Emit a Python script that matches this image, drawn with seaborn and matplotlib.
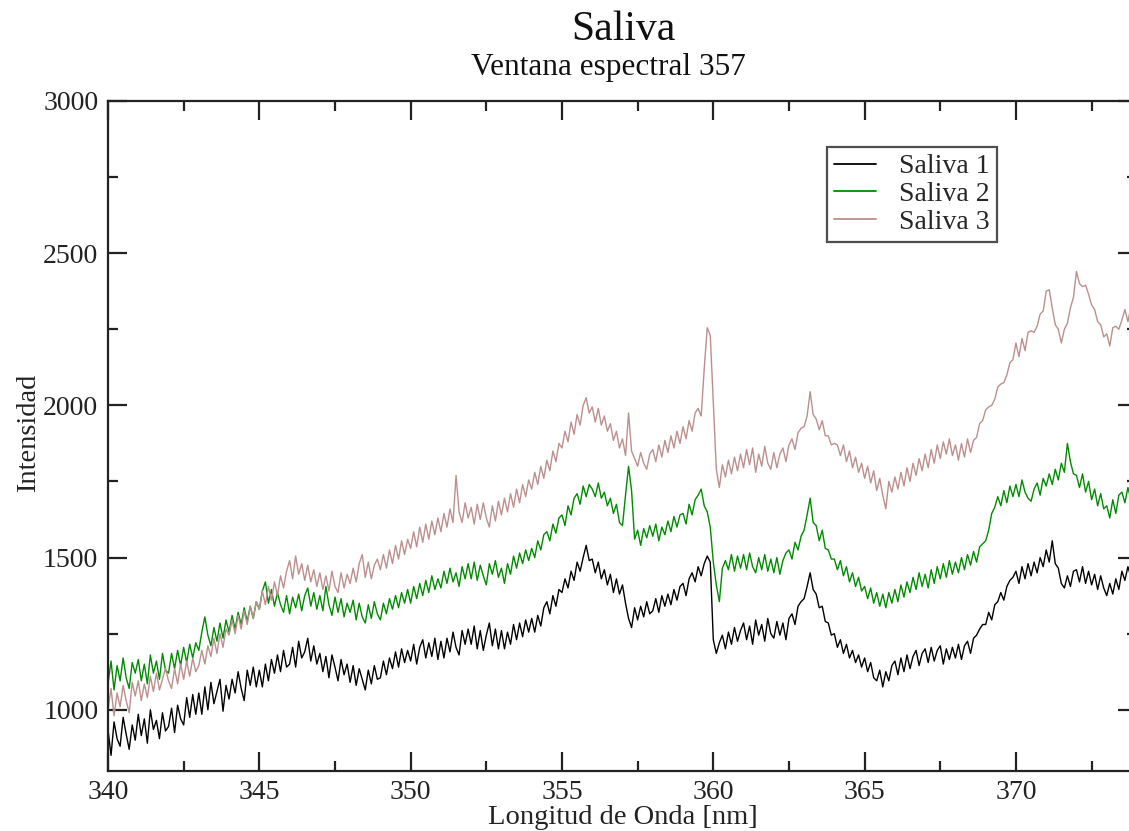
import numpy as np
import pandas as pd
import matplotlib
matplotlib.use("Agg")
import matplotlib.pyplot as plt
import seaborn as sns

# Wavelength grid: 340.0 ... 374.0 nm in 0.1 nm steps
nm_start, nm_stop, nm_step = 340.0, 374.0, 0.1

series_names = ["Saliva 1", "Saliva 2", "Saliva 3"]
series_colors = ["#000000", "#008b00", "#bc8f8f"]

# Saliva 1 (one row per nm)
saliva_1 = [
    935, 850, 960, 905, 880, 975, 920, 870, 950, 900,
    985, 915, 970, 890, 1000, 935, 965, 905, 990, 930,
    945, 1005, 925, 1015, 970, 950, 1040, 975, 1050, 985,
    1055, 985, 1075, 1000, 1090, 1020, 1060, 1100, 995, 1080,
    1035, 1100, 1055, 1125, 1070, 1030, 1130, 1080, 1140, 1075,
    1130, 1075, 1150, 1095, 1165, 1120, 1180, 1125, 1195, 1140,
    1150, 1205, 1140, 1225, 1170, 1190, 1235, 1160, 1210, 1150,
    1185, 1125, 1175, 1105, 1180, 1140, 1095, 1165, 1115, 1150,
    1090, 1145, 1080, 1135, 1100, 1065, 1130, 1085, 1145, 1100,
    1105, 1160, 1115, 1170, 1135, 1190, 1140, 1200, 1155, 1195,
    1160, 1215, 1150, 1205, 1230, 1170, 1220, 1175, 1235, 1165,
    1225, 1170, 1235, 1190, 1255, 1205, 1180, 1260, 1215, 1265,
    1215, 1275, 1200, 1260, 1195, 1245, 1285, 1210, 1265, 1200,
    1260, 1200, 1255, 1215, 1280, 1230, 1285, 1240, 1295, 1255,
    1300, 1255, 1310, 1275, 1335, 1355, 1315, 1375, 1340, 1395,
    1385, 1430, 1400, 1455, 1425, 1485, 1455, 1500, 1540, 1490,
    1495, 1450, 1485, 1430, 1460, 1410, 1445, 1385, 1430, 1380,
    1410, 1350, 1300, 1270, 1335, 1295, 1340, 1305, 1355, 1315,
    1325, 1365, 1320, 1375, 1340, 1380, 1345, 1395, 1360, 1405,
    1415, 1375, 1430, 1450, 1420, 1470, 1440, 1480, 1505, 1485,
    1230, 1185, 1220, 1245, 1200, 1255, 1215, 1270, 1225, 1260,
    1285, 1230, 1275, 1215, 1295, 1245, 1280, 1225, 1300, 1250,
    1235, 1290, 1245, 1285, 1230, 1300, 1315, 1280, 1340, 1355,
    1365, 1405, 1450, 1395, 1380, 1335, 1340, 1290, 1285, 1245,
    1250, 1205, 1230, 1185, 1215, 1170, 1195, 1155, 1180, 1140,
    1170, 1125, 1155, 1105, 1095, 1130, 1075, 1125, 1095, 1145,
    1160, 1115, 1170, 1125, 1180, 1135, 1175, 1195, 1145, 1185,
    1200, 1155, 1205, 1160, 1195, 1210, 1150, 1200, 1165, 1205,
    1170, 1215, 1165, 1210, 1225, 1185, 1235, 1245, 1265, 1280,
    1280, 1320, 1295, 1345, 1355, 1385, 1360, 1405, 1425, 1435,
    1455, 1415, 1470, 1430, 1480, 1440, 1485, 1450, 1500, 1470,
    1525, 1485, 1555, 1480, 1465, 1415, 1400, 1440, 1405, 1455,
    1460, 1420, 1470, 1415, 1455, 1410, 1445, 1395, 1440, 1400,
    1375, 1415, 1380, 1430, 1395, 1455, 1425, 1470, 1435, 1480,
    1455,
]

# Saliva 2
saliva_2 = [
    1085, 1160, 1065, 1145, 1095, 1170, 1105, 1070, 1155, 1120,
    1165, 1095, 1150, 1085, 1180, 1120, 1160, 1100, 1185, 1130,
    1120, 1185, 1135, 1195, 1145, 1205, 1155, 1215, 1170, 1220,
    1195, 1255, 1305, 1245, 1210, 1270, 1225, 1285, 1235, 1295,
    1255, 1310, 1265, 1320, 1280, 1335, 1290, 1340, 1300, 1355,
    1330, 1390, 1420, 1350, 1395, 1340, 1385, 1345, 1320, 1375,
    1315, 1370, 1335, 1380, 1325, 1375, 1400, 1340, 1385, 1330,
    1375, 1325, 1405, 1345, 1310, 1370, 1320, 1365, 1305, 1350,
    1320, 1360, 1295, 1350, 1305, 1285, 1345, 1300, 1355, 1315,
    1295, 1350, 1315, 1365, 1330, 1375, 1335, 1385, 1350, 1395,
    1350, 1405, 1365, 1415, 1375, 1425, 1385, 1440, 1395, 1430,
    1400, 1455, 1415, 1465, 1420, 1450, 1405, 1470, 1430, 1480,
    1430, 1485, 1425, 1475, 1440, 1410, 1480, 1445, 1490, 1435,
    1465, 1415, 1480, 1445, 1505, 1465, 1515, 1480, 1525, 1490,
    1530, 1500, 1555, 1525, 1575, 1585, 1555, 1610, 1580, 1630,
    1640, 1605, 1670, 1640, 1695, 1710, 1675, 1735, 1700, 1740,
    1725, 1700, 1745, 1695, 1715, 1670, 1695, 1645, 1675, 1615,
    1605, 1705, 1800, 1720, 1560, 1590, 1540, 1595, 1565, 1605,
    1570, 1610, 1555, 1600, 1575, 1620, 1585, 1635, 1600, 1640,
    1645, 1610, 1675, 1640, 1690, 1705, 1725, 1670, 1650, 1600,
    1485, 1410, 1355, 1465, 1490, 1460, 1510, 1455, 1505, 1465,
    1510, 1460, 1515, 1470, 1450, 1500, 1460, 1510, 1455, 1495,
    1450, 1500, 1445, 1490, 1515, 1525, 1495, 1550, 1525, 1570,
    1590, 1640, 1695, 1615, 1605, 1555, 1590, 1530, 1525, 1495,
    1495, 1460, 1490, 1440, 1470, 1420, 1450, 1405, 1435, 1390,
    1405, 1365, 1400, 1350, 1385, 1340, 1380, 1335, 1385, 1350,
    1395, 1355, 1410, 1370, 1420, 1385, 1435, 1395, 1450, 1405,
    1445, 1400, 1460, 1415, 1470, 1430, 1480, 1435, 1490, 1445,
    1485, 1450, 1500, 1460, 1510, 1475, 1520, 1485, 1535, 1545,
    1555, 1590, 1645, 1665, 1700, 1670, 1720, 1680, 1735, 1700,
    1740, 1700, 1755, 1715, 1695, 1685, 1725, 1745, 1705, 1760,
    1735, 1775, 1740, 1790, 1755, 1810, 1780, 1875, 1815, 1775,
    1770, 1730, 1775, 1715, 1750, 1690, 1725, 1670, 1710, 1660,
    1670, 1630, 1690, 1645, 1705, 1715, 1680, 1730, 1690, 1725,
    1690,
]

# Saliva 3
saliva_3 = [
    1000, 1070, 980, 1055, 1010, 1080, 1030, 990, 1090, 1045,
    1095, 1030, 1085, 1040, 1110, 1060, 1120, 1065, 1100, 1135,
    1095, 1070, 1135, 1085, 1150, 1100, 1160, 1110, 1170, 1125,
    1145, 1195, 1150, 1210, 1175, 1235, 1185, 1250, 1205, 1265,
    1245, 1295, 1250, 1310, 1265, 1325, 1280, 1340, 1300, 1355,
    1330, 1390, 1345, 1405, 1360, 1420, 1375, 1440, 1400, 1455,
    1490, 1430, 1505, 1445, 1480, 1425, 1475, 1420, 1460, 1405,
    1450, 1395, 1440, 1390, 1455, 1405, 1385, 1450, 1400, 1445,
    1415, 1465, 1420, 1480, 1510, 1435, 1485, 1430, 1475, 1495,
    1460, 1510, 1465, 1525, 1480, 1540, 1495, 1555, 1510, 1560,
    1530, 1585, 1535, 1600, 1550, 1610, 1560, 1620, 1575, 1630,
    1585, 1645, 1600, 1660, 1615, 1770, 1650, 1615, 1680, 1630,
    1665, 1610, 1675, 1625, 1680, 1630, 1600, 1670, 1620, 1685,
    1640, 1695, 1650, 1710, 1665, 1725, 1680, 1740, 1700, 1755,
    1725, 1780, 1740, 1800, 1760, 1820, 1785, 1850, 1815, 1875,
    1860, 1915, 1880, 1945, 1905, 1970, 1935, 2000, 2025, 1975,
    1995, 1945, 1990, 1935, 1965, 1915, 1940, 1885, 1915, 1860,
    1890, 1835, 1975, 1850, 1825, 1800, 1845, 1810, 1790, 1840,
    1855, 1815, 1870, 1830, 1885, 1845, 1900, 1860, 1915, 1875,
    1930, 1890, 1950, 1915, 1975, 1990, 1965, 2120, 2255, 2230,
    2010, 1790, 1730, 1805, 1765, 1820, 1775, 1830, 1785, 1840,
    1795, 1855, 1805, 1860, 1780, 1840, 1800, 1865, 1810, 1790,
    1845, 1795, 1840, 1860, 1815, 1870, 1890, 1855, 1910, 1925,
    1930, 1965, 2045, 1970, 1955, 1920, 1950, 1900, 1900, 1870,
    1875, 1870, 1835, 1870, 1815, 1850, 1795, 1830, 1780, 1810,
    1760, 1800, 1745, 1785, 1720, 1760, 1705, 1660, 1750, 1715,
    1765, 1725, 1780, 1735, 1795, 1750, 1810, 1770, 1825, 1785,
    1840, 1795, 1855, 1810, 1870, 1825, 1880, 1840, 1890, 1835,
    1870, 1820, 1875, 1830, 1890, 1845, 1885, 1895, 1940, 1950,
    1985, 1995, 2000, 2020, 2060, 2070, 2075, 2100, 2140, 2150,
    2205, 2160, 2220, 2180, 2240, 2245, 2240, 2260, 2300, 2310,
    2375, 2380, 2320, 2265, 2250, 2205, 2250, 2270, 2320, 2355,
    2440, 2400, 2390, 2395, 2365, 2330, 2315, 2275, 2265, 2225,
    2235, 2195, 2255, 2260, 2250, 2280, 2315, 2275, 2325, 2330,
    2355,
]

x_ticks = [340, 345, 350, 355, 360, 365, 370]
y_ticks = [1000, 1500, 2000, 2500, 3000]

# ---------------------------------------------------------------- data frame
n_pts = len(saliva_1)
wavelength = np.round(nm_start + nm_step * np.arange(n_pts), 1)
frames = []
for name, vals in zip(series_names, [saliva_1, saliva_2, saliva_3]):
    frames.append(pd.DataFrame({"nm": wavelength, "I": vals, "serie": name}))
df = pd.concat(frames, ignore_index=True)

# ---------------------------------------------------------------- style
sns.set_style("ticks")
plt.rcParams["font.family"] = ["Liberation Serif", "DejaVu Serif"]

fig = plt.figure(figsize=(11.29, 8.31), dpi=100)
W, H = 1129, 831
ax = fig.add_axes([108 / W, 1 - 770.6 / H, (1137 - 108) / W, (770.6 - 101) / H])

sns.lineplot(data=df, x="nm", y="I", hue="serie", hue_order=series_names,
             palette=series_colors, estimator=None, sort=False,
             linewidth=1.0, ax=ax, legend=True)

ax.set_xlim(nm_start, nm_stop)
ax.set_ylim(800, 3000)
ax.set_xticks(x_ticks)
ax.set_yticks(y_ticks)
ax.set_xticks(np.arange(342.5, 374, 5), minor=True)
ax.set_yticks(np.arange(1250, 3000, 500), minor=True)

for side in ["top", "right", "bottom", "left"]:
    ax.spines[side].set_visible(True)
    ax.spines[side].set_linewidth(1.6)
    ax.spines[side].set_color("#222222")

ax.tick_params(which="both", direction="in", top=True, right=True,
               color="#222222", width=1.6)
ax.tick_params(which="major", length=14, pad=7, labelsize=20)
ax.tick_params(which="minor", length=7)
for lab in ax.get_xticklabels() + ax.get_yticklabels():
    lab.set_color("#222222")

ax.set_xlabel("Longitud de Onda [nm]", fontsize=20.5, color="#222222")
ax.set_ylabel("Intensidad", fontsize=20.5, color="#222222")
ax.xaxis.label.set_va("center")
ax.yaxis.label.set_va("center")
ax.xaxis.set_label_coords(0.5, -0.0707)
ax.yaxis.set_label_coords(-0.0777, 0.505)

# legend
handles, labels = ax.get_legend_handles_labels()
leg = ax.legend(handles, labels, loc="upper left",
                bbox_to_anchor=(827 / W, 1 - 147 / H),
                bbox_transform=fig.transFigure, borderaxespad=0,
                fontsize=20, frameon=True, fancybox=False,
                handlelength=1.5, handletextpad=0.85, labelspacing=0.08,
                borderpad=0.25)
leg.get_frame().set_edgecolor("#222222")
leg.get_frame().set_linewidth(1.6)
for line in leg.get_lines():
    line.set_linewidth(1.3)

fig.text(623 / W, 1 - 30 / H, "Saliva", ha="center", va="center",
         fontsize=30, color="#111111")
fig.text(608 / W, 1 - 68 / H, "Ventana espectral 357", ha="center",
         va="center", fontsize=22.5, color="#111111")

fig.savefig("out.png", dpi=100)
